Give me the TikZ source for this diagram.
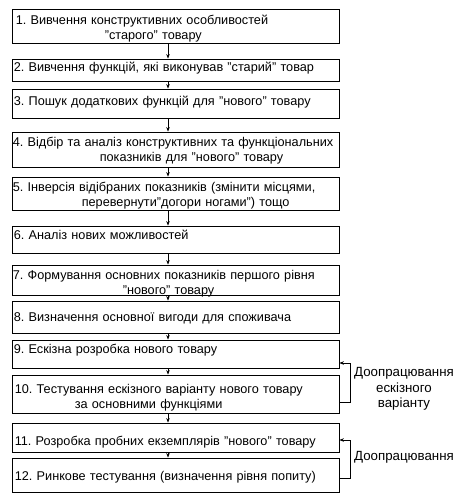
\documentclass[tikz,border=0pt]{standalone}
\usepackage{fontspec}
\setmainfont{Liberation Sans}
\usetikzlibrary{arrows.meta}
\frenchspacing
\begin{document}
\begin{tikzpicture}[x=1pt,y=-1pt,
  box/.style={draw, line width=0.8pt, rectangle, minimum width=327pt, inner sep=0pt},
  txt/.style={font=\fontsize{12.7}{15}\selectfont\frenchspacing, inner sep=0pt, text width=345pt, align=left, anchor=base west},
  lab/.style={font=\fontsize{13.3}{15.5}\selectfont, inner sep=0pt, align=center},
  arr/.style={draw, line width=0.7pt, -{Stealth[length=4.5pt,width=3.5pt]}}]
\useasboundingbox (0,0) rectangle (463,500);
\fill[white] (0,0) rectangle (463,500);
% boxes
\node[box, minimum height=34pt] (b1) at (175.5,26) {};
\node[box, minimum height=22pt] (b2) at (175.5,70) {};
\node[box, minimum height=29pt] (b3) at (175.5,103.5) {};
\node[box, minimum height=35pt] (b4) at (175.5,149.5) {};
\node[box, minimum height=33pt] (b5) at (175.5,193.5) {};
\node[box, minimum height=27pt] (b6) at (175.5,239.5) {};
\node[box, minimum height=30pt] (b7) at (175.5,280) {};
\node[box, minimum height=32pt] (b8) at (175.5,317) {};
\node[box, minimum height=28pt] (b9) at (175.5,354) {};
\node[box, minimum height=38pt] (b10) at (175.5,394) {};
\node[box, minimum height=29pt] (b11) at (175.5,437.5) {};
\node[box, minimum height=34pt] (b12) at (175.5,475) {};
% texts
\node[txt] (t1) at ([xshift=4pt,yshift=-16pt]b1.north west) {1. Вивчення конструктивних особливостей\\\hspace*{89pt}"старого" товару};
\node[txt] (t2) at ([xshift=2pt,yshift=-13pt]b2.north west) {2. Вивчення функцій, які виконував "старий" товар};
\node[txt] (t3) at ([xshift=2pt,yshift=-17pt]b3.north west) {3. Пошук додаткових функцій для "нового" товару};
\node[txt] (t4) at ([xshift=1pt,yshift=-15pt]b4.north west) {4. Відбір та аналіз конструктивних та функціональних\\\hspace*{87pt}показників для "нового" товару};
\node[txt] (t5) at ([xshift=1pt,yshift=-15pt]b5.north west) {5. Інверсія відібраних показників (змінити місцями,\\\hspace*{69pt}перевернути"догори ногами") тощо};
\node[txt] (t6) at ([xshift=2pt,yshift=-14pt]b6.north west) {6. Аналіз нових можливостей};
\node[txt] (t7) at ([xshift=1pt,yshift=-15pt]b7.north west) {7. Формування основних показників першого рівня\\\hspace*{110pt}"нового" товару};
\node[txt] (t8) at ([xshift=2pt,yshift=-21pt]b8.north west) {8. Визначення основної вигоди для споживача};
\node[txt] (t9) at ([xshift=2pt,yshift=-14pt]b9.north west) {9. Ескізна розробка нового товару};
\node[txt] (t10) at ([xshift=3pt,yshift=-19pt]b10.north west) {10. Тестування ескізного варіанту нового товару\\\hspace*{60pt}за основними функціями};
\node[txt] (t11) at ([xshift=3pt,yshift=-23pt]b11.north west) {11. Розробка пробних екземплярів "нового" товару};
\node[txt] (t12) at ([xshift=3pt,yshift=-23pt]b12.north west) {12. Ринкове тестування (визначення рівня попиту)};
% vertical arrows
\coordinate (ax) at (168,0);
\foreach \a/\b in {b1/b2,b2/b3,b3/b4,b4/b5,b5/b6,b6/b7,b7/b8,b8/b9,b9/b10,b10/b11,b11/b12}{
  \draw[arr] (\a.south -| ax) -- (\b.north -| ax);
}
% feedback loops
\draw[arr] ([yshift=-8pt]b10.east) -- ++(11,0) |- ([yshift=-9pt]b9.east);
\draw[arr] ([yshift=-3pt]b12.east) -- ++(11,0) |- ([yshift=-2.5pt]b11.east);
\node[lab] (l1) at (404,389) {Доопрацювання\\ескізного\\варіанту};
\node[lab] (l2) at (404,457) {Доопрацювання};
\end{tikzpicture}
\end{document}
